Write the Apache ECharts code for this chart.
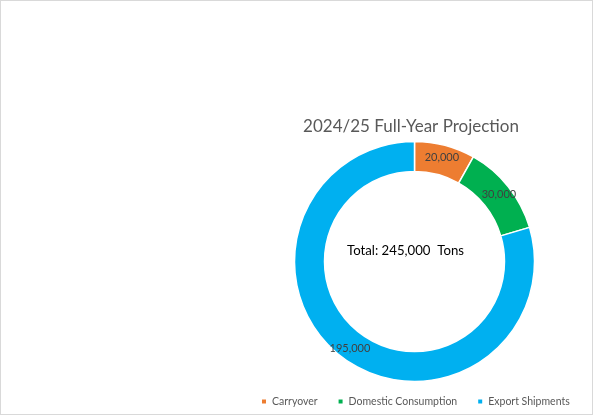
<!DOCTYPE html>
<html lang="en">
<head>
<meta charset="UTF-8">
<title>2024/25 Full-Year Projection</title>
<script src="https://cdn.jsdelivr.net/npm/echarts@6/dist/echarts.min.js"></script>
<style>
  html, body { margin: 0; padding: 0; background: #fff; }
  #main { width: 593px; height: 415px; border: 1px solid #d9d9d9; box-sizing: border-box; }
</style>
</head>
<body>
<div id="main"></div>
<script type="text/javascript">
// chart data
const categories = ['Carryover', 'Domestic Consumption', 'Export Shipments'];
const tons = [20000, 30000, 195000];
const colors = ['#ED7D31', '#00B050', '#00B0F0'];

const total = tons.reduce((a, b) => a + b, 0);
const fmt = (v) => v.toLocaleString('en-US');
const font = 'Lato, "Open Sans", sans-serif';

let myChart = echarts.init(document.getElementById('main'));

let options = {
  animation: false,
  color: colors,
  title: {
    text: '2024/25 Full-Year Projection',
    left: 405,
    top: 112,
    textAlign: 'center',
    textStyle: { fontFamily: font, fontSize: 17, fontWeight: 'normal', color: '#595959' }
  },
  legend: {
    data: categories,
    left: 254,
    top: 390,
    width: 335,
    icon: 'rect',
    itemWidth: 6,
    itemHeight: 6,
    itemGap: 19,
    textStyle: { fontFamily: font, fontSize: 10.5, color: '#595959' }
  },
  graphic: [{
    type: 'text',
    left: 346,
    top: 243,
    style: {
      text: 'Total: ' + fmt(total) + '  Tons',
      font: '13.2px ' + font,
      fill: '#000'
    }
  }],
  series: [{
    type: 'pie',
    center: [413.5, 260.5],
    radius: [90, 120],
    startAngle: 90,
    clockwise: true,
    itemStyle: { borderColor: '#fff', borderWidth: 1.5 },
    label: {
      position: 'inside',
      formatter: (p) => fmt(p.value),
      fontFamily: font,
      fontSize: 11,
      color: '#404040'
    },
    labelLine: { show: false },
    emphasis: { disabled: true },
    data: categories.map((name, i) => ({ name: name, value: tons[i] }))
  }]
};

myChart.setOption(options);
</script>
</body>
</html>
